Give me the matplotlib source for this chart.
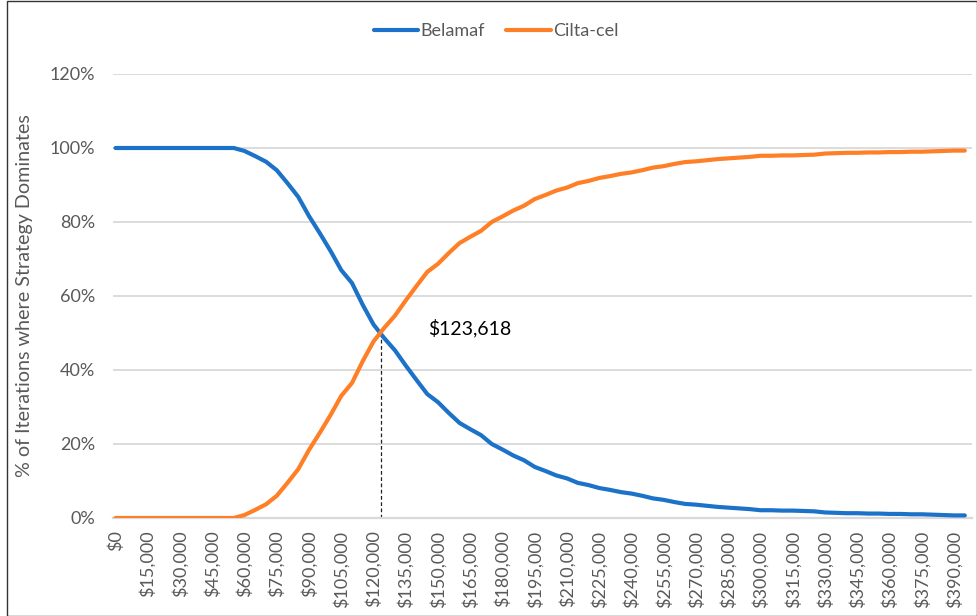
import numpy as np
import matplotlib
matplotlib.use("Agg")
import matplotlib.pyplot as plt
from matplotlib.patches import Rectangle

plt.rcParams['font.family'] = ['Lato', 'DejaVu Sans']

# willingness-to-pay thresholds, one category every $5,000
thresholds = list(range(0, 400000, 5000))

# share of iterations (%) in which each strategy dominates
belamaf = [100, 100, 100, 100, 100, 100, 100, 100, 100, 100, 100, 100,
           99.2, 97.8, 96.3, 94.0, 90.5, 86.8, 81.6, 77.0, 72.2, 67.0,
           63.5, 57.6, 52.3, 48.6, 45.3, 41.2, 37.3, 33.5, 31.3, 28.4,
           25.7, 24.0, 22.4, 20.0, 18.5, 16.9, 15.6, 13.8, 12.7, 11.5,
           10.7, 9.5, 8.9, 8.1, 7.6, 7.0, 6.6, 6.0, 5.3, 4.9,
           4.3, 3.8, 3.6, 3.3, 3.0, 2.8, 2.6, 2.4, 2.1, 2.1,
           2.0, 2.0, 1.9, 1.8, 1.5, 1.4, 1.3, 1.3, 1.2, 1.2,
           1.1, 1.1, 1.0, 1.0, 0.9, 0.8, 0.7, 0.7]
cilta_cel = [0, 0, 0, 0, 0, 0, 0, 0, 0, 0, 0, 0,
             0.8, 2.2, 3.7, 6.0, 9.5, 13.2, 18.4, 23.0, 27.8, 33.0,
             36.5, 42.4, 47.7, 51.4, 54.7, 58.8, 62.7, 66.5, 68.7, 71.6,
             74.3, 76.0, 77.6, 80.0, 81.5, 83.1, 84.4, 86.2, 87.3, 88.5,
             89.3, 90.5, 91.1, 91.9, 92.4, 93.0, 93.4, 94.0, 94.7, 95.1,
             95.7, 96.2, 96.4, 96.7, 97.0, 97.2, 97.4, 97.6, 97.9, 97.9,
             98.0, 98.0, 98.1, 98.2, 98.5, 98.6, 98.7, 98.7, 98.8, 98.8,
             98.9, 98.9, 99.0, 99.0, 99.1, 99.2, 99.3, 99.3]

crossover = 123618

BLUE = '#1b72c8'
ORANGE = '#ff7f27'
GRID = '#d9d9d9'
TEXT = '#595959'

W, H = 978, 616
fig = plt.figure(figsize=(W / 100, H / 100), dpi=100)
ax = fig.add_axes([113 / W, (H - 518) / H, 859 / W, 444 / H])

idx = np.arange(len(thresholds))
ax.plot(idx, belamaf, color=BLUE, lw=3, solid_capstyle='round', label='Belamaf', zorder=3)
ax.plot(idx, cilta_cel, color=ORANGE, lw=3, solid_capstyle='round', label='Cilta-cel', zorder=3)

# dashed drop line at the crossover threshold
step = thresholds[1] - thresholds[0]
cx = crossover / step
cy = np.interp(cx, idx, belamaf)
ax.vlines(cx, 0, cy, colors='#222222', linestyles=(0, (3, 2)), lw=0.9, zorder=2)
ax.annotate('\\$123,618', xy=(cx, cy), xytext=(47, 6), textcoords='offset pixels',
            fontsize=14, color='black', va='center', ha='left')

ax.set_xlim(-0.23, 79.67)
ax.set_ylim(0, 120)

ax.set_yticks(range(0, 121, 20))
ax.set_yticklabels([f'{v}%' for v in range(0, 121, 20)])
ax.set_xticks(idx[::3])
ax.set_xticklabels(['\\$' + f'{t:,}' for t in thresholds[::3]], rotation=90)

ax.tick_params(axis='both', length=0, colors=TEXT, labelsize=13)
ax.tick_params(axis='y', pad=13)
ax.tick_params(axis='x', pad=9)

ax.grid(axis='y', color=GRID, lw=1.3)
ax.set_axisbelow(True)
for side in ['top', 'right', 'left']:
    ax.spines[side].set_visible(False)
ax.spines['bottom'].set_color(GRID)
ax.spines['bottom'].set_linewidth(1.6)

ax.set_ylabel('% of Iterations where Strategy Dominates', fontsize=14.2, color=TEXT)
ax.yaxis.set_label_coords(-0.093, 0.5)

fig.legend(loc='center', bbox_to_anchor=(496 / W, 1 - 31 / H), ncol=2, frameon=False,
           fontsize=13, handlelength=2.45, handletextpad=0.12, columnspacing=1.2,
           labelcolor=TEXT)

# chart border
fig.patches.append(Rectangle((7 / W, 0.5 / H), (W - 8) / W, (H - 1) / H,
                             transform=fig.transFigure, fill=False,
                             edgecolor='#333333', lw=1))

fig.savefig('out.png', dpi=100)
